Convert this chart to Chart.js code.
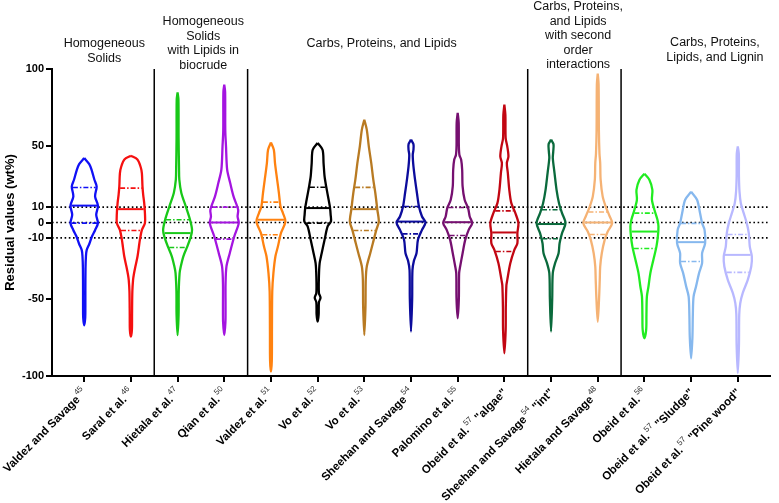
<!DOCTYPE html>
<html>
<head>
<meta charset="utf-8">
<script src="https://cdn.jsdelivr.net/npm/chart.js@4.4.1/dist/chart.umd.min.js"></script>
<style>
  html, body { margin: 0; padding: 0; background: #fff; }
  #wrap { width: 779px; height: 503px; }
</style>
</head>
<body>
<div id="wrap"><canvas id="violinChart" width="779" height="503"></canvas></div>
<script>
'use strict';

// x categories: study name, reference number (superscript), extra tag
const studies = ['Valdez and Savage', 'Saral et al.', 'Hietala et al.', 'Qian et al.', 'Valdez et al.',
  'Vo et al.', 'Vo et al.', 'Sheehan and Savage', 'Palomino et al.', 'Obeid et al.',
  'Sheehan and Savage', 'Hietala and Savage', 'Obeid et al.', 'Obeid et al.', 'Obeid et al.'];
const refs = ['45', '46', '47', '50', '51', '52', '53', '54', '55', '57', '54', '48', '56', '57', '57'];
const suffixes = ['', '', '', '', '', '', '', '', '', ' "algae"', ' "int"', '', '', ' "Sludge"', ' "Pine wood"'];
const colors = ['#1010f5', '#f51010', '#18c818', '#a414e0', '#ff8210', '#000000', '#b87a22', '#0c0c9c',
  '#761070', '#c20612', '#0a6a3c', '#f5b274', '#20ec20', '#86b8ee', '#b8b8ff'];

const yTicks = [100, 50, 10, 0, -10, -50, -100];
const refLines = [10, 0, -10];
const groupBreaks = [1.5, 3.5, 9.5, 11.5];

// summary lines of each violin
const medians = [11, 8.7, -6.9, 0, 1.8, 9.4, 8.7, 0.6, 0.2, -6.5, -1, 0, -5.9, -12.8, -21.1];
const upperQuartiles = [22.8, 22.4, 1.8, 10, 13.3, 23, 22.9, 10.4, 9.8, 7.6, 8.3, 6.8, 6.1, -0.6, -7.8];
const lowerQuartiles = [-0.4, -5.2, -16.3, -10.8, -8, -0.4, -5.2, -7.4, -8.5, -18.9, -10.6, -7.8, -16.9, -25.4, -32.5];

// violin outlines: [residual value, relative density], top to bottom
const valdezSavage = [[42,0],[38,0.35],[34,0.52],[28,0.7],[23.5,0.86],[17,0.75],[11,0.95],[5,0.83],[-0.4,0.95],[-5,0.75],[-9,0.54],[-14,0.35],[-18,0.17],[-22,0.12],[-30,0.09],[-45,0.08],[-55,0.08],[-62,0.07],[-67,0]];
const saral = [[43.5,0],[41,0.45],[36,0.68],[32,0.76],[23.5,0.8],[18,0.85],[12.6,0.92],[6,0.97],[-0.4,0.97],[-4.8,0.76],[-11.3,0.62],[-16,0.55],[-22,0.46],[-28.7,0.31],[-34,0.2],[-37.4,0.15],[-45,0.1],[-60,0.08],[-70,0.07],[-74.4,0]];
const hietala = [[84.8,0],[80,0.06],[55,0.07],[35,0.1],[27.9,0.12],[19.2,0.26],[10.4,0.57],[1.8,0.86],[-4.8,1],[-9,0.92],[-15.7,0.67],[-22,0.4],[-28.7,0.22],[-33,0.14],[-45,0.08],[-60,0.07],[-73.3,0]];
const qian = [[89.8,0],[85,0.06],[60,0.07],[49.6,0.12],[34.4,0.2],[25.7,0.41],[17,0.64],[8.3,0.96],[3.9,0.92],[-0.4,1],[-9.1,0.69],[-20,0.38],[-28.7,0.15],[-40,0.09],[-55,0.09],[-65,0.08],[-73.3,0]];
const valdez = [[52.2,0],[47.4,0.2],[38.7,0.28],[27.8,0.43],[19.2,0.55],[10.4,0.66],[6.1,0.83],[0.6,1],[-6.9,0.69],[-15.7,0.48],[-22,0.31],[-33,0.17],[-45,0.09],[-70,0.07],[-90,0.06],[-97.2,0]];
const vo52 = [[51.8,0],[47.4,0.34],[38.7,0.41],[30,0.48],[23.5,0.59],[14.8,0.76],[9.4,0.86],[5,0.9],[0.7,0.92],[-2.6,0.69],[-11.3,0.48],[-20,0.28],[-26.5,0.14],[-35,0.09],[-46,0.09],[-49,0.2],[-52,0.09],[-60,0.07],[-64.6,0]];
const vo53 = [[67,0],[60.5,0.17],[49.6,0.31],[38.7,0.48],[27.9,0.62],[19.2,0.76],[8.3,0.9],[0.6,1],[-4.8,0.83],[-13.5,0.59],[-20,0.41],[-28.7,0.17],[-37.4,0.1],[-55,0.08],[-73.3,0]];
const sheehan = [[54,0],[51,0.17],[47.4,0.17],[44,0.12],[36.5,0.17],[27.9,0.28],[19.2,0.41],[10.4,0.55],[3.9,0.76],[0,1],[-4.8,0.76],[-11.3,0.48],[-20,0.38],[-25,0.2],[-31,0.1],[-50,0.08],[-71.1,0]];
const palomino = [[71.4,0],[65,0.07],[50,0.08],[44,0.12],[40.9,0.24],[34.4,0.31],[23.5,0.34],[14.8,0.48],[9.4,0.72],[3.9,0.83],[-0.4,1],[-4.8,0.76],[-11.3,0.52],[-20,0.34],[-28.7,0.17],[-33,0.1],[-50,0.08],[-62.4,0]];
const obeidAlgae = [[76.8,0],[70,0.07],[55,0.09],[49.6,0.2],[43,0.28],[38.7,0.17],[32.2,0.24],[21.3,0.34],[12.6,0.48],[6.1,0.76],[-0.4,0.97],[-6.9,0.9],[-13.5,0.9],[-17.8,0.69],[-26.5,0.41],[-37.4,0.2],[-41,0.14],[-55,0.1],[-70,0.09],[-85.2,0]];
const sheehanInt = [[54,0],[51,0.17],[46,0.15],[42,0.12],[32.2,0.24],[21.3,0.38],[12.6,0.55],[6.1,0.76],[-0.4,1],[-6.9,0.76],[-13.5,0.59],[-20,0.52],[-26.5,0.28],[-33,0.12],[-50,0.08],[-71.1,0]];
const hietalaSavage = [[97,0],[90,0.06],[60,0.08],[45,0.12],[38.7,0.17],[27.9,0.2],[17,0.34],[10.4,0.55],[3.9,0.83],[-0.4,1],[-5.9,0.69],[-11.3,0.48],[-20,0.28],[-28.7,0.17],[-37.4,0.14],[-50,0.09],[-64.6,0]];
const obeid = [[31.8,0],[27.9,0.34],[21.3,0.55],[14.8,0.52],[8.3,0.69],[1.8,0.9],[-2.6,0.97],[-9.1,0.93],[-15.7,0.83],[-24.3,0.62],[-33,0.41],[-41.7,0.28],[-48.3,0.17],[-60,0.14],[-70,0.12],[-75.4,0]];
const obeidSludge = [[20,0],[14.8,0.41],[6.1,0.62],[-0.4,0.76],[-4.8,0.93],[-13.5,0.97],[-20,0.76],[-26.5,0.76],[-33,0.55],[-41.7,0.34],[-48.3,0.17],[-60,0.12],[-75,0.09],[-88.5,0]];
const obeidPine = [[49.6,0],[45,0.07],[30,0.08],[20,0.12],[12.6,0.21],[6.1,0.41],[-0.4,0.62],[-6.9,0.76],[-15.7,0.83],[-22,0.97],[-28.7,0.93],[-37.4,0.69],[-46,0.34],[-52.6,0.17],[-60,0.1],[-80,0.08],[-98.2,0]];

const profiles = [valdezSavage, saral, hietala, qian, valdez, vo52, vo53, sheehan, palomino,
  obeidAlgae, sheehanInt, hietalaSavage, obeid, obeidSludge, obeidPine];

// group headings above the plot
const groupTitles = [
  { lines: ['Homogeneous', 'Solids'], at: 0.43, top: 44 },
  { lines: ['Homogeneous', 'Solids', 'with Lipids in', 'biocrude'], at: 2.55, top: 22 },
  { lines: ['Carbs, Proteins, and Lipids'], at: 6.37, top: 44 },
  { lines: ['Carbs, Proteins,', 'and Lipids', 'with second', 'order', 'interactions'], at: 10.58, top: 7 },
  { lines: ['Carbs, Proteins,', 'Lipids, and Lignin'], at: 13.51, top: 43 }
];

const FONT = "'Liberation Sans', Arial, sans-serif";
const HALF = 0.31;
const X_MIN = -0.69, X_MAX = 14.69;

function outlinePoints(profile, center) {
  let right = profile.map(function(p) { return { x: center + p[1] * HALF, y: p[0] }; });
  let left = profile.slice().reverse().map(function(p) { return { x: center - p[1] * HALF, y: p[0] }; });
  return right.concat(left.slice(1));
}

function densityAt(profile, v) {
  for(let i = 0; i < profile.length - 1; i++) {
    let a = profile[i], b = profile[i + 1];
    if(v <= a[0] && v >= b[0]) {
      let t = (a[0] - v) / (a[0] - b[0]);
      return a[1] + (b[1] - a[1]) * t;
    }
  }
  return 0;
}

function summaryLine(i, v, color, dash, width) {
  let w = densityAt(profiles[i], v) * HALF - 0.02;
  return {
    data: [{ x: i - w, y: v }, { x: i + w, y: v }],
    borderColor: color, borderWidth: width, borderDash: dash,
    showLine: true, pointRadius: 0, order: 1
  };
}

let datasets = [];

refLines.forEach(function(v) {
  datasets.push({
    data: [{ x: X_MIN, y: v }, { x: X_MAX, y: v }],
    borderColor: '#000', borderWidth: 1.6, borderDash: [1.6, 2.6],
    showLine: true, pointRadius: 0, order: 10
  });
});

groupBreaks.forEach(function(b) {
  datasets.push({
    data: [{ x: b, y: -100 }, { x: b, y: 100 }],
    borderColor: '#000', borderWidth: 1.5,
    showLine: true, pointRadius: 0, order: 9
  });
});

profiles.forEach(function(profile, i) {
  datasets.push({
    data: outlinePoints(profile, i),
    borderColor: colors[i], borderWidth: 2.3, tension: 0.3,
    showLine: true, pointRadius: 0, fill: false, order: 2
  });
  datasets.push(summaryLine(i, medians[i], colors[i], [], 2));
  datasets.push(summaryLine(i, upperQuartiles[i], colors[i], [5, 2, 1.5, 2], 1.6));
  datasets.push(summaryLine(i, lowerQuartiles[i], colors[i], [5, 2, 1.5, 2], 1.6));
});

const whiteBackground = {
  id: 'whiteBackground',
  beforeDraw(chart) {
    let ctx = chart.ctx;
    ctx.save();
    ctx.fillStyle = '#fff';
    ctx.fillRect(0, 0, chart.width, chart.height);
    ctx.restore();
  }
};

const groupHeadings = {
  id: 'groupHeadings',
  afterDraw(chart) {
    let ctx = chart.ctx, xs = chart.scales.x;
    ctx.save();
    ctx.fillStyle = '#111';
    ctx.font = '12.5px ' + FONT;
    ctx.textAlign = 'center';
    ctx.textBaseline = 'middle';
    groupTitles.forEach(function(g) {
      let cx = xs.getPixelForValue(g.at);
      g.lines.forEach(function(line, k) {
        ctx.fillText(line, cx, g.top + k * 14.5);
      });
    });
    ctx.restore();
  }
};

const studyLabels = {
  id: 'studyLabels',
  afterDraw(chart) {
    let ctx = chart.ctx, xs = chart.scales.x, bottom = chart.chartArea.bottom;
    let bold = 'bold 11.5px ' + FONT, small = '8px ' + FONT;
    ctx.save();
    ctx.textBaseline = 'middle';
    ctx.textAlign = 'left';
    studies.forEach(function(name, i) {
      ctx.font = bold;
      let wMain = ctx.measureText(name).width;
      let wSuf = ctx.measureText(suffixes[i]).width;
      ctx.font = small;
      let wSup = ctx.measureText(refs[i]).width + 1;
      let total = wMain + wSup + wSuf;
      ctx.save();
      ctx.translate(xs.getPixelForValue(i) + 1, bottom + 15);
      ctx.rotate(-Math.PI / 4);
      ctx.fillStyle = '#000';
      ctx.font = bold;
      ctx.fillText(name, -total, 0);
      ctx.font = small;
      ctx.fillStyle = '#333';
      ctx.fillText(refs[i], -total + wMain + 1, -5);
      ctx.font = bold;
      ctx.fillStyle = '#000';
      ctx.fillText(suffixes[i], -total + wMain + wSup, 0);
      ctx.restore();
    });
    ctx.restore();
  }
};

let myChart = new Chart(document.getElementById('violinChart'), {
  type: 'scatter',
  data: { datasets: datasets },
  plugins: [whiteBackground, groupHeadings, studyLabels],
  options: {
    responsive: false,
    animation: false,
    devicePixelRatio: 1,
    layout: { padding: { top: 69, right: 9, left: 0, bottom: 0 } },
    plugins: { legend: { display: false }, tooltip: { enabled: false } },
    scales: {
      x: {
        type: 'linear', min: X_MIN, max: X_MAX,
        afterBuildTicks: function(s) { s.ticks = studies.map(function(_, i) { return { value: i }; }); },
        afterFit: function(s) { s.height = 127; },
        ticks: { display: false },
        grid: { drawOnChartArea: false, drawTicks: true, tickLength: 6, color: '#000', lineWidth: 2 },
        border: { display: true, color: '#000', width: 2 }
      },
      y: {
        type: 'linear', min: -100, max: 100,
        afterBuildTicks: function(s) { s.ticks = yTicks.map(function(v) { return { value: v }; }); },
        afterFit: function(s) { s.width = 52; },
        ticks: { color: '#000', padding: 2, autoSkip: false, font: { family: FONT, size: 11, weight: 'bold' } },
        grid: { drawOnChartArea: false, drawTicks: true, tickLength: 6, color: '#000', lineWidth: 2 },
        border: { display: true, color: '#000', width: 2 },
        title: {
          display: true, text: 'Residual values (wt%)', color: '#000',
          font: { family: FONT, size: 13, weight: 'bold' }, padding: { top: 3, bottom: 0 }
        }
      }
    }
  }
});
</script>
</body>
</html>
